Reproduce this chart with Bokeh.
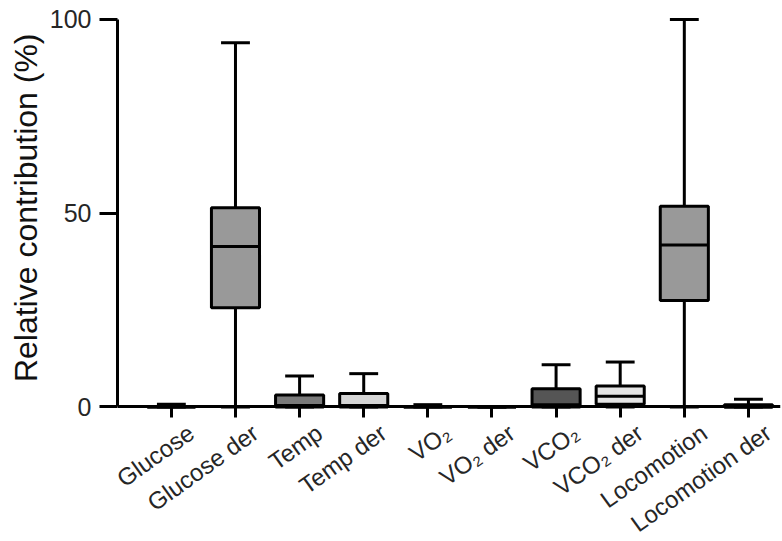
from bokeh.plotting import figure
from bokeh.models import Range1d, FixedTicker, ColumnDataSource, LabelSet, Title
from bokeh.core.properties import value
from bokeh.embed import file_html
from bokeh.resources import INLINE

cats = ["Glucose", "Glucose der", "Temp", "Temp der", "VO\u2082", "VO\u2082 der",
        "VCO\u2082", "VCO\u2082 der", "Locomotion", "Locomotion der"]
mins = [0, 0, 0, 0, 0, 0, 0, 0, 0, 0]
q1s = [0, 25.6, 0, 0, 0, 0, 0, 0.7, 27.5, 0]
medians = [0, 41.4, 0.4, 0.4, 0, 0, 0.6, 2.8, 41.8, 0]
q3s = [0, 51.4, 3.1, 3.5, 0, 0, 4.7, 5.4, 51.8, 0.6]
maxs = [0.7, 94.0, 8.0, 8.6, 0.6, 0, 10.9, 11.6, 100.0, 2.0]
fills = ["#999999", "#999999", "#7a7a7a", "#d6d6d6", "#999999", "#999999",
         "#555555", "#e4e4e4", "#999999", "#999999"]
y_ticks = [0, 50, 100]
y_title = "Relative contribution (%)"

BOX_W = 0.75
CAP_W = 0.45
LW = 3

xs = list(range(len(cats)))
src = ColumnDataSource(dict(
    x=xs, mn=mins, q1=q1s, med=medians, q3=q3s, mx=maxs, fill=fills,
    bl=[x - BOX_W / 2 for x in xs], br=[x + BOX_W / 2 for x in xs],
    cl=[x - CAP_W / 2 for x in xs], cr=[x + CAP_W / 2 for x in xs],
))

p = figure(width=782, height=541, output_backend="svg", toolbar_location=None,
           x_range=Range1d(-0.84, 9.5), y_range=Range1d(-34.7, 101),
           min_border_left=117, min_border_right=2, min_border_top=15,
           min_border_bottom=0)
p.outline_line_color = None
p.xgrid.visible = False
p.ygrid.visible = False
p.background_fill_color = "white"
p.border_fill_color = "white"

# whiskers
p.segment(x0="x", y0="q3", x1="x", y1="mx", source=src, line_color="black", line_width=LW)
p.segment(x0="x", y0="q1", x1="x", y1="mn", source=src, line_color="black", line_width=LW)
p.segment(x0="cl", y0="mx", x1="cr", y1="mx", source=src, line_color="black", line_width=LW)
p.segment(x0="cl", y0="mn", x1="cr", y1="mn", source=src, line_color="black", line_width=LW)
# boxes
p.vbar(x="x", width=BOX_W, bottom="q1", top="q3", source=src, fill_color="fill",
       line_color="black", line_width=LW)
p.segment(x0="bl", y0="med", x1="br", y1="med", source=src, line_color="black", line_width=LW)

lab_font = "Liberation Sans"
p.xaxis.fixed_location = 0
p.xaxis.ticker = FixedTicker(ticks=xs)
p.xaxis.major_label_overrides = {i: "" for i in xs}
p.xaxis.major_label_text_font_size = "0px"
p.xaxis.major_label_standoff = 0
p.xaxis.major_tick_out = 11
p.xaxis.major_tick_in = 0
p.xaxis.minor_tick_line_color = None
p.xaxis.axis_line_width = LW
p.xaxis.major_tick_line_width = LW

# rotated category labels (real text), anchored under each tick
lab_src = ColumnDataSource(dict(x=xs, y=[0] * len(xs), text=cats))
labels = LabelSet(x="x", y="y", text="text", source=lab_src,
                  angle=0.62, text_align="right", text_baseline="top",
                  x_offset=12, y_offset=-12,
                  text_font=value(lab_font), text_font_size=value("24px"),
                  text_color="#262626")
p.add_layout(labels)

p.yaxis.ticker = FixedTicker(ticks=y_ticks)
p.yaxis.bounds = (0, 100)
p.yaxis.major_label_text_font = lab_font
p.yaxis.major_label_text_font_size = "25px"
p.yaxis.major_label_text_color = "#262626"
p.yaxis.major_tick_out = 18
p.yaxis.major_tick_in = 0
p.yaxis.minor_tick_line_color = None
p.yaxis.axis_line_width = LW
p.yaxis.major_tick_line_width = LW
p.yaxis.major_label_standoff = 8

p.add_layout(Title(text=y_title, align="right", offset=18,
                   text_font=lab_font, text_font_size="32px",
                   text_font_style="normal", text_color="#111111",
                   standoff=6), "left")

open("out.html", "w").write(file_html(p, INLINE))
